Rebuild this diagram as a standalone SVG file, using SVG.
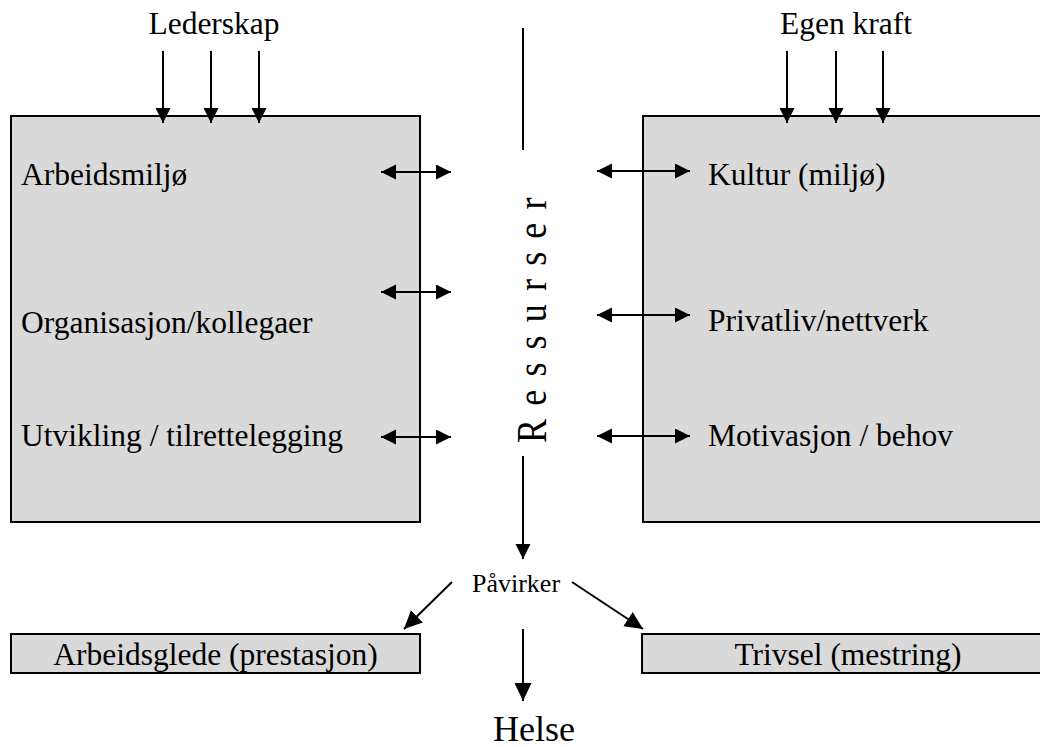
<svg xmlns="http://www.w3.org/2000/svg" width="1040" height="747" viewBox="0 0 1040 747">
<style>
.box{fill:#d9d9d9;stroke:#000;stroke-width:2}
.t{font-family:"Liberation Serif","Times New Roman",serif;font-size:31.5px;fill:#000}
.ln{stroke:#000;stroke-width:2;fill:none}
</style>
<defs>
<marker id="ah" markerUnits="userSpaceOnUse" markerWidth="16" markerHeight="16" refX="15" refY="7.5" orient="auto-start-reverse"><path d="M0,0 L15,7.5 L0,15 Z" fill="#000"/></marker>
<marker id="ahb" markerUnits="userSpaceOnUse" markerWidth="19" markerHeight="18" refX="18" refY="8.5" orient="auto"><path d="M0,0 L18,8.5 L0,17 Z" fill="#000"/></marker>
</defs>
<rect width="1040" height="747" fill="#fff"/>
<g id="left-box">
<rect class="box" x="11" y="116" width="409" height="406"/>
<text class="t" x="21" y="185">Arbeidsmiljø</text>
<text class="t" x="21" y="333">Organisasjon/kollegaer</text>
<text class="t" x="21" y="446">Utvikling / tilrettelegging</text>
</g>
<g id="right-box">
<rect class="box" x="643" y="116" width="410" height="406"/>
<text class="t" x="708" y="185">Kultur (miljø)</text>
<text class="t" x="708" y="331">Privatliv/nettverk</text>
<text class="t" x="708" y="446">Motivasjon / behov</text>
</g>
<g id="arbeidsglede">
<rect class="box" x="11" y="634" width="409" height="39"/>
<text class="t" x="215.5" y="665" text-anchor="middle">Arbeidsglede (prestasjon)</text>
</g>
<g id="trivsel">
<rect class="box" x="642" y="634" width="410" height="39"/>
<text class="t" x="848" y="665" text-anchor="middle">Trivsel (mestring)</text>
</g>
<g id="lederskap"><text class="t" x="214" y="34" text-anchor="middle">Lederskap</text></g>
<g id="egen-kraft"><text class="t" x="846" y="34" text-anchor="middle">Egen kraft</text></g>
<g id="ressurser">
<text class="t" transform="translate(546,443) rotate(-90) scale(1,1.2)" style="font-size:36px;letter-spacing:13.2px">Ressurser</text>
</g>
<g id="pavirker"><text class="t" x="516" y="592" text-anchor="middle" style="font-size:26px">Påvirker</text></g>
<g id="helse"><text class="t" x="534" y="741" text-anchor="middle" style="font-size:36px">Helse</text></g>
<g id="connectors">
<line class="ln" x1="163" y1="51" x2="163" y2="123" marker-end="url(#ah)"/>
<line class="ln" x1="211" y1="51" x2="211" y2="123" marker-end="url(#ah)"/>
<line class="ln" x1="259" y1="51" x2="259" y2="123" marker-end="url(#ah)"/>
<line class="ln" x1="787" y1="51" x2="787" y2="123" marker-end="url(#ah)"/>
<line class="ln" x1="836" y1="51" x2="836" y2="123" marker-end="url(#ah)"/>
<line class="ln" x1="883" y1="51" x2="883" y2="123" marker-end="url(#ah)"/>
<line class="ln" x1="381" y1="172" x2="451" y2="172" marker-start="url(#ah)" marker-end="url(#ah)"/>
<line class="ln" x1="381" y1="292" x2="451" y2="292" marker-start="url(#ah)" marker-end="url(#ah)"/>
<line class="ln" x1="381" y1="437" x2="451" y2="437" marker-start="url(#ah)" marker-end="url(#ah)"/>
<line class="ln" x1="597" y1="171" x2="690" y2="171" marker-start="url(#ah)" marker-end="url(#ah)"/>
<line class="ln" x1="597" y1="315" x2="690" y2="315" marker-start="url(#ah)" marker-end="url(#ah)"/>
<line class="ln" x1="597" y1="436" x2="690" y2="436" marker-start="url(#ah)" marker-end="url(#ah)"/>
<line class="ln" x1="523" y1="28" x2="523" y2="150"/>
<line class="ln" x1="523" y1="456" x2="523" y2="559" marker-end="url(#ah)"/>
<line class="ln" x1="452" y1="582" x2="404" y2="629" marker-end="url(#ahb)"/>
<line class="ln" x1="572" y1="582" x2="643" y2="629" marker-end="url(#ahb)"/>
<line class="ln" x1="523" y1="629" x2="523" y2="701" marker-end="url(#ahb)"/>
</g>
</svg>
